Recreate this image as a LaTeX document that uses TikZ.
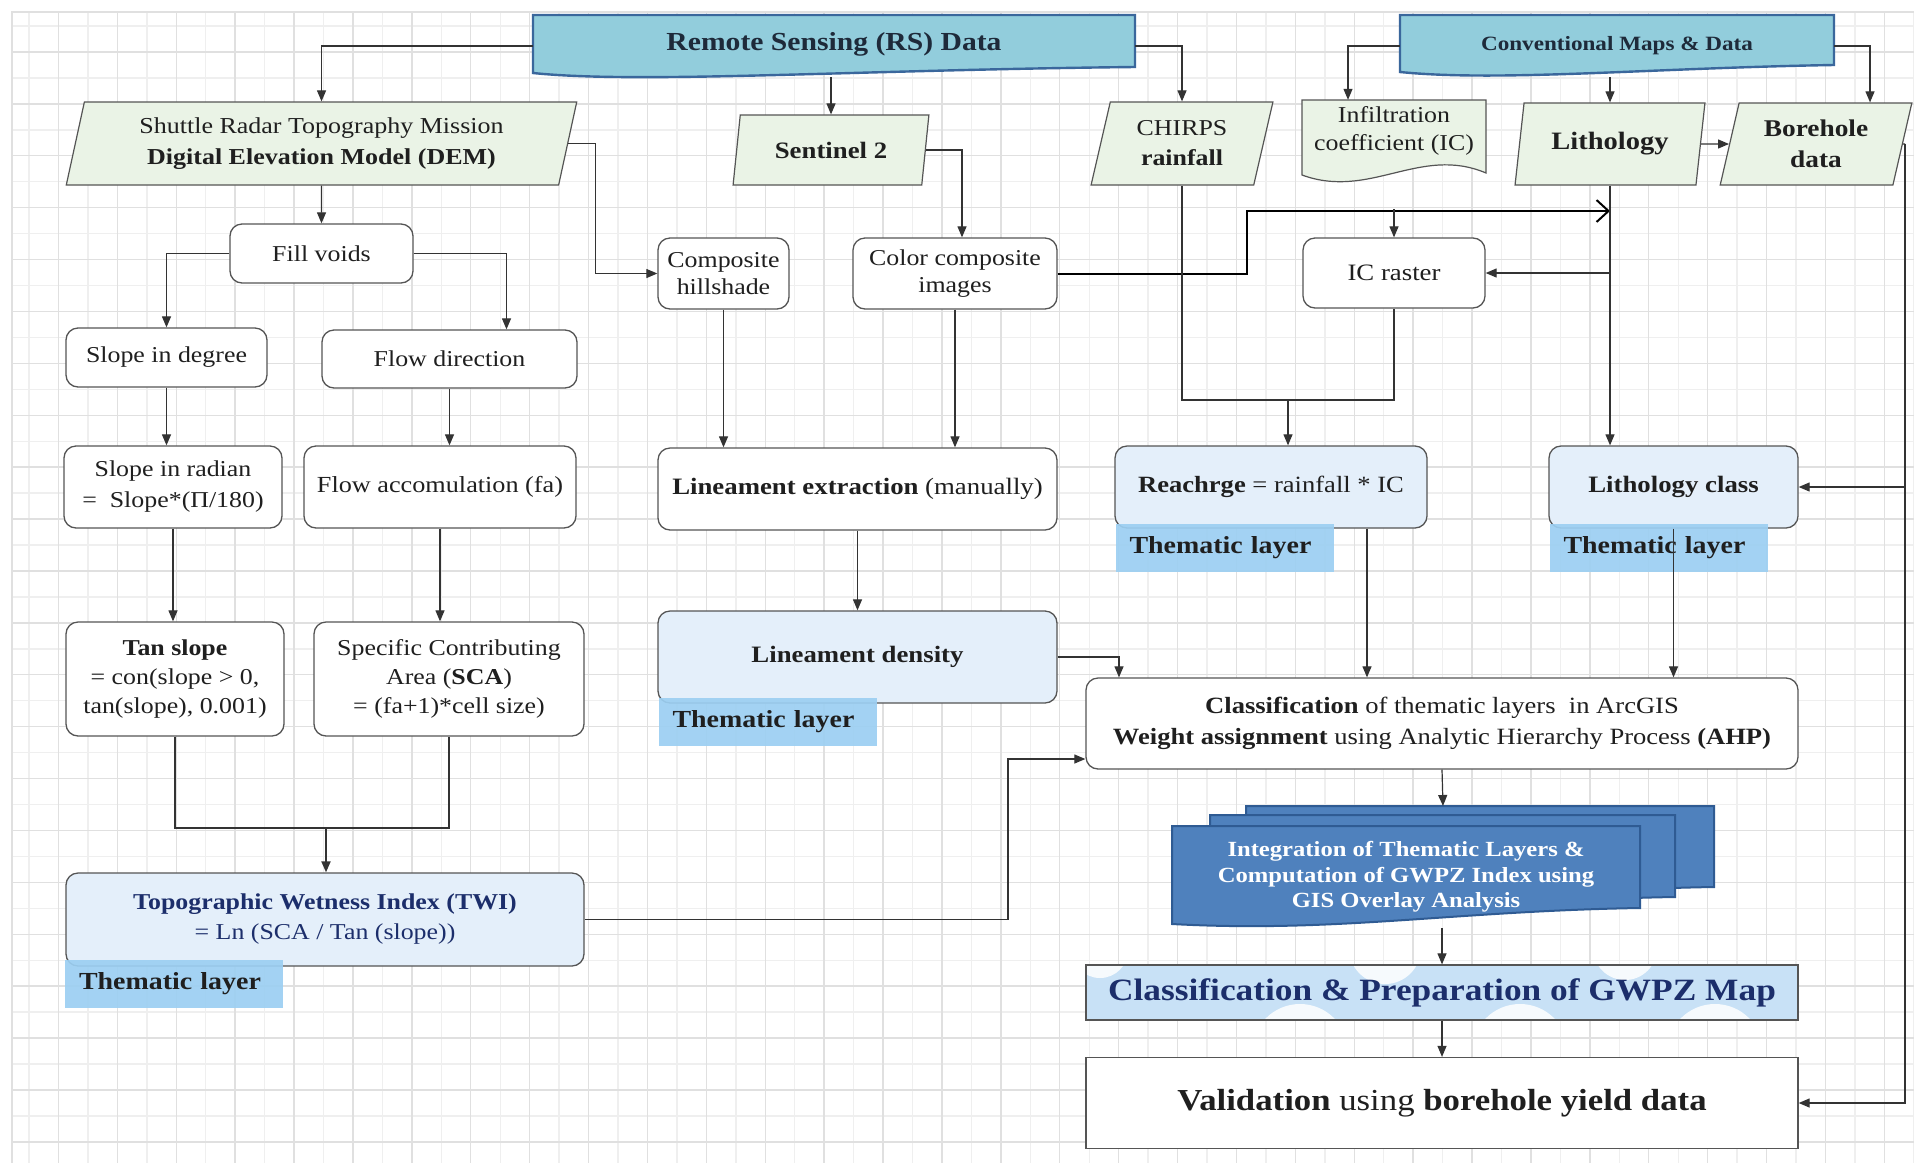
\documentclass[tikz,border=0pt]{standalone}
\usepackage{fontspec}
\setmainfont{Liberation Serif}[FakeStretch=1.14]
\usetikzlibrary{positioning,shapes.geometric,arrows.meta,calc}

\definecolor{gridline}{HTML}{E0E0E0}
\definecolor{gridlight}{HTML}{EFEFEF}
\definecolor{datagreen}{HTML}{EAF3E6}
\definecolor{bannerblue}{HTML}{92CDDC}
\definecolor{bannerline}{HTML}{3A679C}
\definecolor{layerblue}{HTML}{E4EFFA}
\definecolor{tagblue}{HTML}{9CCFF2}
\definecolor{stackblue}{HTML}{4F81BD}
\definecolor{stackline}{HTML}{2F5B93}
\definecolor{mapblue}{HTML}{C8E1F6}
\definecolor{navy}{HTML}{1C2E6B}
\definecolor{slate}{HTML}{1E2A3A}
\definecolor{boxline}{HTML}{555555}
\definecolor{linegray}{HTML}{333333}

\tikzset{
  base/.style={font=\fontsize{22.7}{29}\selectfont, text=black!88, align=center, inner sep=0pt},
  procbox/.style={base, draw=boxline, line width=1.3pt, rounded corners=12pt, fill=white},
  layerbox/.style={procbox, fill=layerblue},
  datain/.style={base, trapezium, trapezium left angle=75, trapezium right angle=105,
    trapezium stretches=true, draw=boxline, line width=1.2pt, fill=datagreen},
  thematic/.style={base, fill=tagblue, fill opacity=.92, text opacity=1,
    font=\fontsize{24.5}{28}\selectfont\bfseries, text width=190pt, inner xsep=14pt,
    align=left, minimum height=48pt},
  bannerbox/.style={base, minimum height=62pt, text height=20pt, text depth=12pt,
    font=\fontsize{26}{30}\selectfont\bfseries, text=slate},
  wireline/.style={draw=linegray, line width=1.2pt},
  conn/.style={wireline, -{Triangle[length=11pt,width=9pt]}},
  thickline/.style={draw=black, line width=2pt, -{Straight Barb[length=12pt,width=22pt]}},
}

\begin{document}
\begin{tikzpicture}[x=1pt,y=-1pt]
\useasboundingbox (0,0) rectangle (1914,1163);
\fill[white] (0,0) rectangle (1914,1163);

% grid
\foreach \k in {0,2,...,64} \draw[gridlight, line width=1.4pt] (29+29.45*\k,12) -- (29+29.45*\k,1163);
\foreach \k in {0,2,...,43} \draw[gridlight, line width=1.4pt] (12,26+25.95*\k) -- (1914,26+25.95*\k);
\foreach \k in {1,3,...,63} \draw[gridline, line width=1.4pt] (29+29.45*\k,12) -- (29+29.45*\k,1163);
\foreach \k in {1,3,...,43} \draw[gridline, line width=1.4pt] (12,26+25.95*\k) -- (1914,26+25.95*\k);
\draw[gridline, line width=1.6pt] (12,1163) -- (12,12) -- (1914,12);

% banners and documents
\filldraw[fill=bannerblue, draw=bannerline, line width=2.4pt] (533,15) -- (1135,15) -- (1135,67)
  .. controls (850,70) and (640,84) .. (533,73) -- cycle;
\filldraw[fill=bannerblue, draw=bannerline, line width=2.4pt] (1400,15) -- (1834,15) -- (1834,65)
  .. controls (1650,68) and (1500,82) .. (1400,72) -- cycle;
\filldraw[fill=datagreen, draw=boxline, line width=1.2pt] (1302,100) -- (1486,100) -- (1486,173)
  .. controls (1420,145) and (1370,200) .. (1302,175) -- cycle;
\filldraw[fill=stackblue, draw=stackline, line width=2pt] (1246,806) -- (1714,806) -- (1714,887)
  .. controls (1527,890) and (1410,912) .. (1246,903) -- cycle;
\filldraw[fill=stackblue, draw=stackline, line width=2pt] (1210,815) -- (1675,815) -- (1675,897)
  .. controls (1489,900) and (1373,922) .. (1210,913) -- cycle;
\filldraw[fill=stackblue, draw=stackline, line width=2pt] (1172,826) -- (1640,826) -- (1640,908)
  .. controls (1453,911) and (1336,933) .. (1172,924) -- cycle;
\begin{scope}
\clip (1086,964) rectangle (1798,1019);
\fill[mapblue] (1086,964) rectangle (1798,1019);
\fill[white, opacity=.85] (1100,950) circle[radius=28pt] (1300,1052) circle[radius=48pt]
  (1385,948) circle[radius=36pt] (1520,1052) circle[radius=48pt] (1625,948) circle[radius=32pt]
  (1715,1052) circle[radius=48pt];
\end{scope}

% data sources
\node[bannerbox, minimum width=602pt] (rs) at (834,46) {Remote Sensing (RS) Data};
\node[bannerbox, minimum width=434pt, font=\fontsize{20.3}{25}\selectfont\bfseries] (conv) at (1617,46) {Conventional Maps \& Data};
\node[datain, minimum width=511pt, minimum height=83pt, font=\fontsize{22.8}{31}\selectfont] (dem) at (321.5,143.5)
  {Shuttle Radar Topography Mission\\\textbf{Digital Elevation Model (DEM)}};
\node[datain, minimum width=196pt, minimum height=70pt, font=\fontsize{23.5}{28}\selectfont\bfseries] (sen) at (831,150) {Sentinel 2};
\node[datain, minimum width=182pt, minimum height=83pt, font=\fontsize{22.7}{30}\selectfont] (chirps) at (1182,143.5) {CHIRPS\\\textbf{rainfall}};
\node[base, minimum width=184pt, minimum height=62pt, font=\fontsize{22.7}{28}\selectfont] (ic) at (1394,131) {Infiltration\\coefficient (IC)};
\node[datain, minimum width=190pt, minimum height=82pt, font=\fontsize{25}{30}\selectfont\bfseries] (lith) at (1610,144) {Lithology};
\node[datain, minimum width=192pt, minimum height=82pt, font=\fontsize{24}{31}\selectfont\bfseries] (bore) at (1816,144) {Borehole\\data};

% DEM branch
\node[procbox, minimum width=183pt, minimum height=59pt] (voids) at (321.5,253.5) {Fill voids};
\node[procbox, minimum width=201pt, minimum height=59pt] (sdeg) at (166.5,357.5) {Slope in degree};
\node[procbox, minimum width=255pt, minimum height=58pt] (fdir) at (449.5,359) {Flow direction};
\node[procbox, minimum width=218pt, minimum height=82pt, font=\fontsize{22.7}{31}\selectfont] (srad) at (173,487) {Slope in radian\\=\ \ Slope*(Π/180)};
\node[procbox, minimum width=272pt, minimum height=82pt, font=\fontsize{23}{29}\selectfont] (facc) at (440,487) {Flow accomulation (fa)};
\node[procbox, minimum width=218pt, minimum height=114pt] (tan) at (175,679) {\textbf{Tan slope}\\= con(slope > 0,\\tan(slope), 0.001)};
\node[procbox, minimum width=270pt, minimum height=114pt] (sca) at (449,679) {Specific Contributing\\Area (\textbf{SCA})\\= (fa+1)*cell size)};
\node[layerbox, minimum width=518pt, minimum height=93pt, text=navy, font=\fontsize{22.7}{30}\selectfont] (twi) at (325,919.5)
  {\textbf{Topographic Wetness Index (TWI)}\\= Ln (SCA / Tan (slope))};
\node[thematic] (twitag) at (174,983.5) {Thematic layer};

% Sentinel branch
\node[procbox, minimum width=131pt, minimum height=71pt, font=\fontsize{22.7}{27}\selectfont] (hill) at (723.5,273.5) {Composite\\hillshade};
\node[procbox, minimum width=204pt, minimum height=71pt, font=\fontsize{22.7}{27}\selectfont] (ccomp) at (955,273.5) {Color composite\\images};
\node[procbox, minimum width=399pt, minimum height=82pt, font=\fontsize{23.5}{29}\selectfont] (linx) at (857.5,489) {\textbf{Lineament extraction} (manually)};
\node[layerbox, minimum width=399pt, minimum height=92pt, font=\fontsize{23.5}{29}\selectfont\bfseries] (lden) at (857.5,657) {Lineament density};
\node[thematic] (ldentag) at (767.5,721.5) {Thematic layer};

% recharge and lithology
\node[procbox, minimum width=182pt, minimum height=70pt, font=\fontsize{23.5}{29}\selectfont] (icr) at (1394,273) {IC raster};
\node[layerbox, minimum width=312pt, minimum height=82pt, font=\fontsize{23.3}{29}\selectfont] (rech) at (1271,487) {\textbf{Reachrge} = rainfall * IC};
\node[thematic] (rechtag) at (1224.5,547.5) {Thematic layer};
\node[layerbox, minimum width=249pt, minimum height=82pt, font=\fontsize{23.5}{29}\selectfont\bfseries] (lcls) at (1673.5,487) {Lithology class};
\node[thematic] (lclstag) at (1658.5,547.5) {Thematic layer};

% integration
\node[procbox, minimum width=712pt, minimum height=91pt, font=\fontsize{23.3}{31}\selectfont] (cls) at (1442,723.5)
  {\textbf{Classification} of thematic layers\ \ in ArcGIS\\\textbf{Weight assignment} using Analytic Hierarchy Process \textbf{(AHP)}};
\node[base, minimum width=468pt, minimum height=102pt, text=white, font=\fontsize{21.6}{25.5}\selectfont\bfseries] (integ) at (1406,877)
  {Integration of Thematic Layers \&\\Computation of GWPZ Index using\\GIS Overlay Analysis};
\node[base, draw=boxline, line width=1.3pt, minimum width=712pt, minimum height=55pt, text=navy, font=\fontsize{31}{34}\selectfont\bfseries] (prep) at (1442,992.5)
  {Classification \& Preparation of GWPZ Map};
\node[base, draw=boxline, line width=1.3pt, fill=white, minimum width=712pt, minimum height=91pt, font=\fontsize{30.5}{34}\selectfont] (val) at (1442,1103)
  {\textbf{Validation} using \textbf{borehole yield data}};

% connectors
\draw[conn] (rs.west) -| (dem.north);
\draw[conn] (dem.south) -- (voids.north);
\draw[conn] (voids.west) -| (sdeg.north);
\draw[conn] (voids.east) -| ([xshift=57pt]fdir.north);
\draw[conn] (sdeg.south) -- (sdeg.south |- srad.north);
\draw[conn] (fdir.south) -- (fdir.south |- facc.north);
\draw[conn] (srad.south) -- (srad.south |- tan.north);
\draw[conn] (facc.south) -- (facc.south |- sca.north);
\coordinate (twijoin) at (326,828);
\draw[wireline] (tan.south) |- (twijoin) -| (sca.south);
\draw[conn, line width=2pt] (twijoin) -- (twijoin |- twi.north);
\coordinate (twibend) at (1008,759);
\draw[conn] (twi.east) -| (twibend) -- (twibend -| cls.west);
\draw[conn] (dem.east) -- ++(27,0) |- (hill.west);
\draw[conn] (rs.south -| sen.north) -- (sen.north);
\draw[conn] (sen.east) -| ([xshift=7pt]ccomp.north);
\draw[conn] (rs.east) -| (chirps.north);
\draw[conn] (hill.south) -- (hill.south |- linx.north);
\draw[conn] (ccomp.south) -- (ccomp.south |- linx.north);
\draw[thickline] (ccomp.east) -- ++(189,0) |- (lith.south |- 0,211);
\draw[conn] (conv.west) -| ([xshift=-46pt]ic.north);
\draw[conn] (conv.south -| lith.north) -- (lith.north);
\draw[conn] (conv.east) -| ([xshift=54pt]bore.north);
\draw[conn] (lith.east) -- (bore.west);
\draw[conn] ([yshift=-47pt]ic.south) -- (icr.north);
\draw[conn] (lith.south) -- (lith.south |- lcls.north);
\draw[conn] (lith.south |- icr.east) -- (icr.east);
\coordinate (rjoin) at (1288,400);
\draw[wireline] (chirps.south) |- (rjoin) -| (icr.south);
\draw[conn] (rjoin) -- (rjoin |- rech.north);
\draw[conn] (linx.south) -- (lden.north);
\draw[conn] (lden.east) -| ([xshift=-323pt]cls.north);
\coordinate (rdrop) at ([xshift=96pt]rech.south);
\draw[conn] (rdrop) -- (rdrop |- cls.north);
\draw[conn] (lcls.south) -- (lcls.south |- cls.north);
\coordinate (stacktop) at (1443,806);
\draw[conn] (cls.south) -- (stacktop);
\draw[conn] (prep.north |- integ.south) -- (prep.north);
\draw[conn] (prep.south) -- (val.north);
\coordinate (bdrop) at (1905,144);
\draw[wireline] (bore.east) -- (bdrop);
\draw[conn] (bdrop) |- (val.east);
\draw[conn] (bdrop |- lcls.east) -- (lcls.east);
\end{tikzpicture}
\end{document}
